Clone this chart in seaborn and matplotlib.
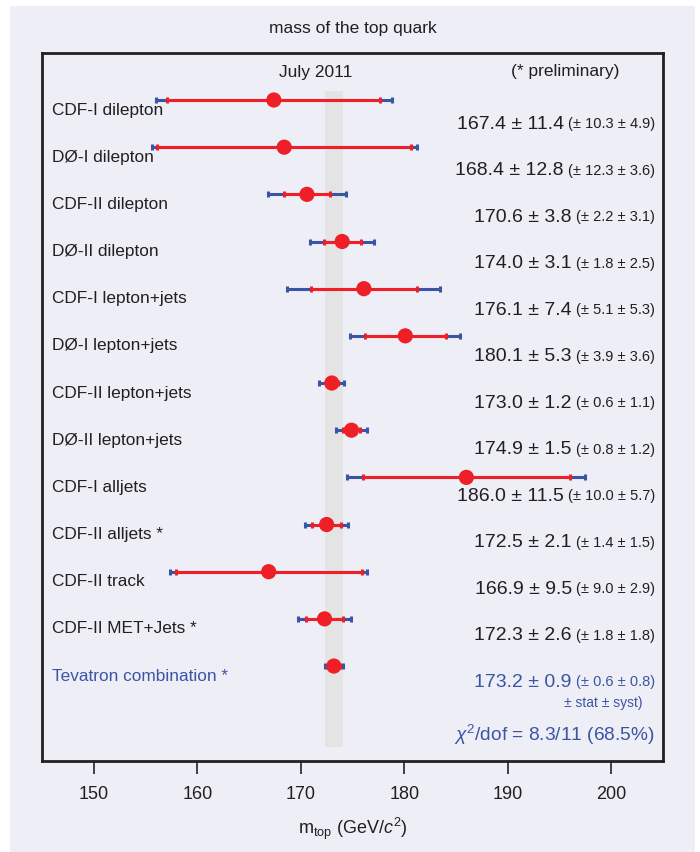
import matplotlib
matplotlib.use("Agg")
import matplotlib.pyplot as plt
from matplotlib.patches import Rectangle
import seaborn as sns
import pandas as pd
import numpy as np

labels = ["CDF-I dilepton", "DØ-I dilepton", "CDF-II dilepton", "DØ-II dilepton",
          "CDF-I lepton+jets", "DØ-I lepton+jets", "CDF-II lepton+jets", "DØ-II lepton+jets",
          "CDF-I alljets", "CDF-II alljets *", "CDF-II track", "CDF-II MET+Jets *",
          "Tevatron combination *"]
mass = [167.4, 168.4, 170.6, 174.0, 176.1, 180.1, 173.0, 174.9, 186.0, 172.5, 166.9, 172.3, 173.2]
total = [11.4, 12.8, 3.8, 3.1, 7.4, 5.3, 1.2, 1.5, 11.5, 2.1, 9.5, 2.6, 0.9]
stat = [10.3, 12.3, 2.2, 1.8, 5.1, 3.9, 0.6, 0.8, 10.0, 1.4, 9.0, 1.8, 0.6]
syst = [4.9, 3.6, 3.1, 2.5, 5.3, 3.6, 1.1, 1.2, 5.7, 1.5, 2.9, 1.8, 0.8]
xticks = [150, 160, 170, 180, 190, 200]

BG = "#eeeef6"
RED = "#ee1f26"
BLUE = "#3b55a5"
DARK = "#231f20"
FONT = ["Liberation Sans", "DejaVu Sans"]

sns.set_theme(style="white")
plt.rcParams["font.family"] = FONT
plt.rcParams["mathtext.fontset"] = "custom"
plt.rcParams["mathtext.rm"] = "Liberation Sans"
plt.rcParams["mathtext.it"] = "Liberation Sans:italic"
plt.rcParams["mathtext.bf"] = "Liberation Sans:bold"

df = pd.DataFrame({"label": labels, "mass": mass, "total": total, "stat": stat,
                   "syst": syst, "row": np.arange(len(labels))})

# layout: rows spaced 47.17 px, first row at 100 px, axes from 53 to 761 px
ROW_PX, ROW0 = 47.17, 100.0
def prow(px):
    return (px - ROW0) / ROW_PX

fig = plt.figure(figsize=(7.0, 8.52), dpi=100, facecolor="white")
fig.patches.append(Rectangle((10/700, 0), 685/700, 846/852, transform=fig.transFigure,
                             facecolor=BG, edgecolor="none", zorder=-10))
ax = fig.add_axes([42/700, 1-761/852, 621/700, 708/852])
ax.set_facecolor(BG)
ylo, yhi = prow(761), prow(53)
ax.set_xlim(145, 205)
ax.set_ylim(ylo, yhi)

comb = df.iloc[-1]
ax.axvspan(comb["mass"] - comb["total"], comb["mass"] + comb["total"],
           ymin=(ylo - prow(747)) / (ylo - yhi), ymax=(ylo - prow(91)) / (ylo - yhi),
           color="#e4e4e4", zorder=1, lw=0)

ax.errorbar(df["mass"], df["row"], xerr=df["total"], fmt="none", ecolor=BLUE,
            elinewidth=2.2, capsize=2.5, capthick=2.2, zorder=2)
ax.errorbar(df["mass"], df["row"], xerr=df["stat"], fmt="none", ecolor=RED,
            elinewidth=2.2, capsize=2.5, capthick=2.2, zorder=3)
sns.scatterplot(data=df, x="mass", y="row", color=RED, s=120, edgecolor="none",
                ax=ax, zorder=4, legend=False)

ax.set_xticks(xticks)
ax.set_xticklabels([str(t) for t in xticks], fontsize=13, color=DARK)
ax.set_yticks([])
ax.tick_params(axis="x", which="major", bottom=True, direction="out", length=9.5,
               width=1.3, color="#333333", pad=8.5)
for sp in ax.spines.values():
    sp.set_color(DARK)
    sp.set_linewidth(2.0)
ax.set_xlabel(r"m$_{\rm top}$ (GeV/$c^2$)", fontsize=13, color=DARK, labelpad=9)
ax.set_ylabel("")

tr = ax.get_yaxis_transform()
for i, row in df.iterrows():
    col = BLUE if i == len(df) - 1 else DARK
    ax.text(0.016, prow(110 + 47.17 * i), row["label"], transform=tr,
            ha="left", va="center", fontsize=12.4, color=col)
    small = ax.text(0.987, prow(124 + 46.5 * i),
                    f"(± {row['stat']:.1f} ± {row['syst']:.1f})",
                    transform=tr, ha="right", va="center", fontsize=10.5, color=col)
    ax.annotate(f"{row['mass']:.1f} ± {row['total']:.1f}", xy=(0, 0.5), xycoords=small,
                xytext=(-3, 0), textcoords="offset points", ha="right", va="center",
                fontsize=14, color=col)

ax.text((642 - 42) / 621, prow(703), "± stat ± syst)", transform=tr,
        ha="right", va="center", fontsize=10, color=BLUE)
ax.text(0.987, prow(735), r"$\chi^2$/dof = 8.3/11 (68.5%)", transform=tr,
        ha="right", va="center", fontsize=13.8, color=BLUE)
ax.text((315.5 - 42) / 621, prow(72), "July 2011", transform=tr,
        ha="center", va="center", fontsize=12.5, color=DARK)
ax.text((565 - 42) / 621, prow(71), "(* preliminary)", transform=tr,
        ha="center", va="center", fontsize=12.5, color=DARK)
fig.text(353/700, 1-28/852, "mass of the top quark", ha="center", va="center",
         fontsize=12.5, color=DARK)

fig.savefig("out.png", dpi=100, facecolor="white")
